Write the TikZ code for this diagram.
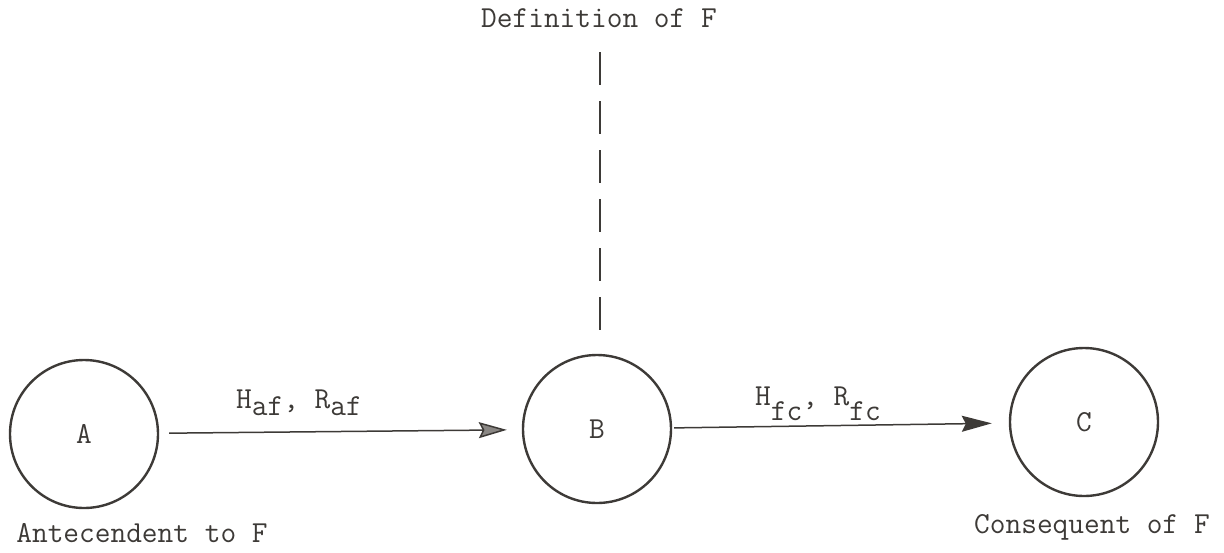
\documentclass[tikz,border=0pt]{standalone}
\usetikzlibrary{arrows.meta}
\definecolor{ink}{HTML}{3D3A37}
\definecolor{arrowfill}{HTML}{8A8784}
\begin{document}
\begin{tikzpicture}[x=1pt,y=-1pt,
  every node/.style={text=ink,font=\fontsize{30.5}{34}\ttfamily},
  state/.style={circle,draw=ink,line width=2.4pt,minimum size=148pt,inner sep=0pt},
  lbl/.style={inner sep=0pt},
  flow/.style={draw=ink,line width=1.5pt}]
\useasboundingbox (0,0) rectangle (1224,552);
\node[state] (A) at (84,434) {A};
\node[state] (B) at (597,429) {B};
\node[state] (C) at (1084,422) {C};
\node[lbl,anchor=base] (def) at (599,27) {Definition of F};
\node[lbl,anchor=base] (ant) at (142,542) {Antecendent to F};
\node[lbl,anchor=base] (con) at (1092,533) {Consequent of F};
\node[lbl,anchor=base west] (l1) at (236,408) {H\raisebox{-7pt}{af}, R\raisebox{-7pt}{af}};
\node[lbl,anchor=base west] (l2) at (755,405) {H\raisebox{-15pt}{fc}, R\raisebox{-15pt}{fc}};
\coordinate (dtop) at (600,52);
\coordinate (dbot) at (600,330);
\draw[draw=ink,line width=2pt,dash pattern=on 33pt off 16pt] (dtop) -- (dbot);
\draw[flow,shorten <=10pt,shorten >=15pt,-{Stealth[length=28pt,width=16pt,inset=4pt,fill=arrowfill]}] (A) -- (B);
\draw[flow,shorten <=2pt,shorten >=17pt,-{Stealth[length=30pt,width=16pt,inset=4pt]}] (B) -- (C);
\end{tikzpicture}
\end{document}
